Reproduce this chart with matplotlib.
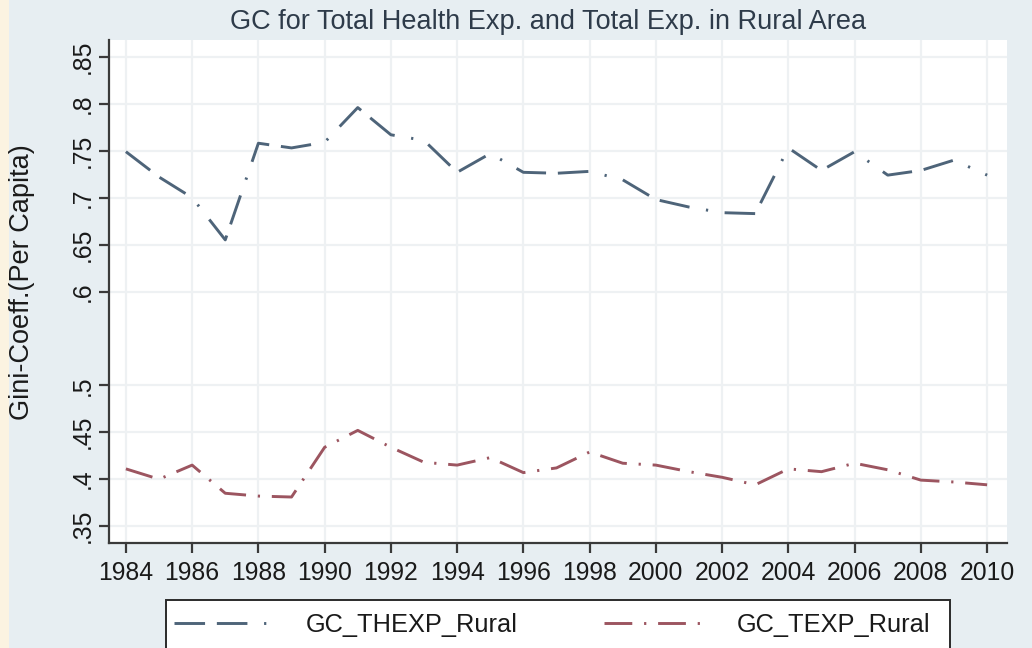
import matplotlib
matplotlib.use("Agg")
import matplotlib.pyplot as plt
from matplotlib.lines import Line2D
from matplotlib.patches import Rectangle

plt.rcParams["font.family"] = ["Liberation Sans", "DejaVu Sans"]
plt.rcParams["lines.scale_dashes"] = False

years = list(range(1984, 2011))
gc_thexp_rural = [0.749, 0.722, 0.700, 0.655, 0.758, 0.753, 0.759, 0.796, 0.767,
                  0.761, 0.727, 0.747, 0.727, 0.726, 0.728, 0.719, 0.698, 0.690,
                  0.684, 0.683, 0.753, 0.729, 0.749, 0.724, 0.729, 0.740, 0.724]
gc_texp_rural = [0.411, 0.400, 0.415, 0.385, 0.382, 0.381, 0.434, 0.452, 0.434,
                 0.418, 0.415, 0.423, 0.407, 0.412, 0.429, 0.417, 0.415, 0.408,
                 0.402, 0.394, 0.411, 0.408, 0.417, 0.410, 0.399, 0.397, 0.394]

x_ticks = list(range(1984, 2011, 2))
y_ticks = [0.35, 0.40, 0.45, 0.50, 0.60, 0.65, 0.70, 0.75, 0.80, 0.85]
y_tick_labels = [".35", ".4", ".45", ".5", ".6", ".65", ".7", ".75", ".8", ".85"]

title = "GC for Total Health Exp. and Total Exp. in Rural Area"
y_label = "Gini-Coeff.(Per Capita)"
series_names = ["GC_THEXP_Rural", "GC_TEXP_Rural"]

blue = "#4e6479"
red = "#9c5560"
outer_bg = "#e7eef2"
grid_col = "#eef1f3"
axis_col = "#3a3a3a"

W, H = 1032, 648
fig = plt.figure(figsize=(W / 100, H / 100), dpi=100, facecolor=outer_bg)

# thin cream strip along the left edge
fig.patches.append(Rectangle((0, 0), 9 / W, 1, transform=fig.transFigure,
                             facecolor="#fbf3e1", edgecolor="none", zorder=0))

ax = fig.add_axes([109 / W, 1 - 543 / H, (1007 - 109) / W, (543 - 40) / H])
ax.set_facecolor("white")

blue_dash = (0, (22, 8.5, 22, 12, 1.6, 12))
red_dash = (0, (20, 8.5, 1.6, 8.5))

ax.plot(years, gc_thexp_rural, color=blue, lw=2.1, linestyle=blue_dash,
        dash_capstyle="butt", label=series_names[0], zorder=3)
ax.plot(years, gc_texp_rural, color=red, lw=2.1, linestyle=red_dash,
        dash_capstyle="butt", label=series_names[1], zorder=3)

ax.set_xlim(1983.49, 2010.6)
ax.set_ylim(0.332, 0.868)

ax.set_xticks(x_ticks)
ax.set_xticklabels([str(y) for y in x_ticks])
ax.set_yticks(y_ticks)
ax.set_yticklabels(y_tick_labels, rotation=90, va="center")

ax.grid(True, color=grid_col, lw=1.6, zorder=0)
ax.set_axisbelow(True)

for side in ("top", "right"):
    ax.spines[side].set_visible(False)
for side in ("left", "bottom"):
    ax.spines[side].set_color(axis_col)
    ax.spines[side].set_linewidth(1.6)

ax.tick_params(axis="both", direction="out", length=7, width=1.6,
               color=axis_col, labelsize=17.8, labelcolor="#1a1a1a")
ax.tick_params(axis="x", pad=6)
ax.tick_params(axis="y", pad=3)

fig.text(22 / W, 1 - 282 / H, y_label, rotation=90, ha="center", va="center",
         fontsize=19.5, color="#1a1a1a")
fig.text(548 / W, 1 - 22 / H, title, ha="center", va="center",
         fontsize=19.5, color="#2e3b4a")

# legend box running off the bottom edge
fig.patches.append(Rectangle((166 / W, -20 / H), (950 - 166) / W, (48 + 20) / H,
                             transform=fig.transFigure, facecolor="white",
                             edgecolor="#2a2a2a", lw=1.4, zorder=1))
handles = [Line2D([], [], color=blue, lw=2.1, linestyle=blue_dash, dash_capstyle="butt"),
           Line2D([], [], color=red, lw=2.1, linestyle=red_dash, dash_capstyle="butt")]
leg = fig.legend(handles, series_names, loc="center left",
                 bbox_to_anchor=(166 / W, 1 - 625 / H), ncol=2, frameon=False,
                 fontsize=18.3, handlelength=3.9, handletextpad=1.3,
                 columnspacing=3.4, borderpad=0.3, borderaxespad=0)
for t in leg.get_texts():
    t.set_color("#1a1a1a")

fig.savefig("out.png", dpi=100, facecolor=outer_bg)
